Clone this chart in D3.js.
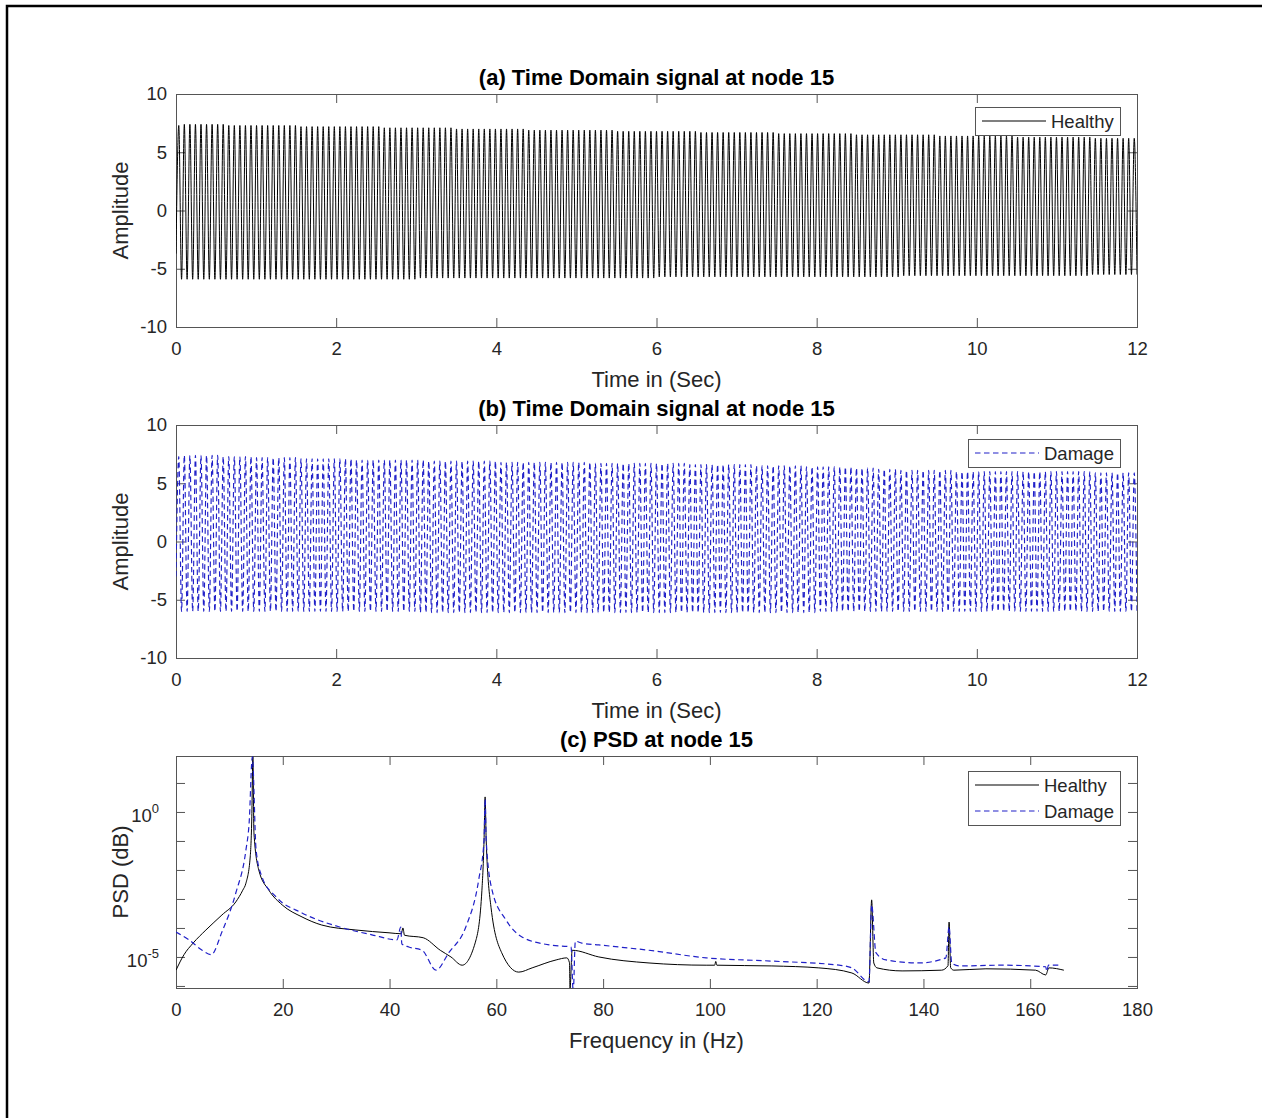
<!DOCTYPE html>
<html>
<head>
<meta charset="utf-8">
<script src="https://cdn.jsdelivr.net/npm/d3@7"></script>
<style>
body { margin: 0; background: #fff; }
svg text { font-family: "Liberation Sans", Arial, sans-serif; }
</style>
</head>
<body>
<div id="chart"></div>
<script>
// ---- time domain signals (alternating troughs / peaks, 14.4 Hz, 0..12 s) ----
const timeEnd = 12;
const timeTicks = [0, 2, 4, 6, 8, 10, 12];
const ampTicks = [-10, -5, 0, 5, 10];

const healthyPeaks = [
  7.3, 7.4, 7.4, 7.4, 7.4, 7.4, 7.4, 7.4, 7.4, 7.3, 7.3, 7.3, 7.3, 7.3, 7.3,
  7.3, 7.3, 7.3, 7.3, 7.3, 7.3, 7.3, 7.2, 7.2, 7.2, 7.2, 7.2, 7.2, 7.2,
  7.2, 7.2, 7.2, 7.2, 7.2, 7.2, 7.2, 7.2, 7.1, 7.1, 7.1, 7.1, 7.1, 7.1, 7.1,
  7.1, 7.1, 7.1, 7.1, 7.1, 7.1, 7.0, 7.0, 7.0, 7.0, 7.0, 7.0, 7.0, 7.0,
  7.0, 7.0, 7.0, 7.0, 7.0, 6.9, 6.9, 6.9, 6.9, 6.9, 6.9, 6.9, 6.9, 6.9, 6.9,
  6.9, 6.9, 6.9, 6.9, 6.9, 6.9, 6.8, 6.8, 6.8, 6.8, 6.8, 6.8, 6.8, 6.8,
  6.8, 6.8, 6.8, 6.8, 6.8, 6.8, 6.8, 6.7, 6.7, 6.7, 6.7, 6.7, 6.7, 6.7, 6.7,
  6.7, 6.7, 6.7, 6.7, 6.7, 6.7, 6.6, 6.6, 6.6, 6.6, 6.6, 6.6, 6.6, 6.6,
  6.6, 6.6, 6.6, 6.6, 6.6, 6.6, 6.5, 6.5, 6.5, 6.5, 6.5, 6.5, 6.5, 6.5, 6.5,
  6.5, 6.5, 6.5, 6.5, 6.5, 6.5, 6.4, 6.4, 6.4, 6.4, 6.4, 6.4, 6.4, 6.4,
  6.4, 6.4, 6.4, 6.4, 6.4, 6.4, 6.3, 6.3, 6.3, 6.3, 6.3, 6.3, 6.3, 6.3,
  6.3, 6.3, 6.3, 6.3, 6.3, 6.3, 6.2, 6.2, 6.2, 6.2, 6.2, 6.2, 6.2, 6.2
];
const healthyTroughs = [
  -3.7, -5.9, -5.9, -5.9, -5.9, -5.9, -5.9, -5.9, -5.9, -5.9, -5.9, -5.9, -5.9, -5.9, -5.9,
  -5.9, -5.9, -5.9, -5.9, -5.9, -5.9, -5.9, -5.9, -5.9, -5.9, -5.9, -5.9, -5.9, -5.9,
  -5.9, -5.9, -5.9, -5.9, -5.9, -5.9, -5.9, -5.9, -5.9, -5.9, -5.9, -5.9, -5.9, -5.9, -5.9,
  -5.8, -5.8, -5.8, -5.8, -5.8, -5.8, -5.8, -5.8, -5.8, -5.8, -5.8, -5.8, -5.8, -5.8,
  -5.8, -5.8, -5.8, -5.8, -5.8, -5.8, -5.8, -5.8, -5.8, -5.8, -5.8, -5.8, -5.8, -5.8, -5.8,
  -5.8, -5.8, -5.8, -5.8, -5.8, -5.8, -5.8, -5.8, -5.8, -5.8, -5.8, -5.8, -5.8, -5.8,
  -5.7, -5.7, -5.7, -5.7, -5.7, -5.7, -5.7, -5.7, -5.7, -5.7, -5.7, -5.7, -5.7, -5.7, -5.7,
  -5.7, -5.7, -5.7, -5.7, -5.7, -5.7, -5.7, -5.7, -5.7, -5.7, -5.7, -5.7, -5.7, -5.7,
  -5.7, -5.7, -5.7, -5.7, -5.7, -5.7, -5.7, -5.7, -5.7, -5.7, -5.7, -5.7, -5.7, -5.7, -5.7,
  -5.6, -5.6, -5.6, -5.6, -5.6, -5.6, -5.6, -5.6, -5.6, -5.6, -5.6, -5.6, -5.6, -5.6,
  -5.6, -5.6, -5.6, -5.6, -5.6, -5.6, -5.6, -5.6, -5.6, -5.6, -5.6, -5.6, -5.6, -5.6,
  -5.6, -5.6, -5.6, -5.6, -5.6, -5.6, -5.5, -5.5, -5.5, -5.5, -5.5, -5.5, -5.5, -5.5, -5.5
];

const damagePeaks = [
  7.3, 7.4, 7.4, 7.4, 7.4, 7.4, 7.4, 7.4, 7.3, 7.3, 7.3, 7.3, 7.3, 7.3, 7.2,
  7.2, 7.2, 7.2, 7.2, 7.2, 7.2, 7.2, 7.1, 7.1, 7.1, 7.1, 7.1, 7.1, 7.1,
  7.1, 7.1, 7.1, 7.0, 7.0, 7.0, 7.0, 7.0, 7.0, 7.0, 7.0, 7.0, 7.0, 7.0, 7.0,
  7.0, 6.9, 6.9, 6.9, 6.9, 6.9, 6.9, 6.9, 6.9, 6.9, 6.9, 6.9, 6.9, 6.9,
  6.8, 6.8, 6.8, 6.8, 6.8, 6.8, 6.8, 6.8, 6.8, 6.8, 6.8, 6.8, 6.8, 6.8, 6.8,
  6.8, 6.8, 6.7, 6.7, 6.7, 6.7, 6.7, 6.7, 6.7, 6.7, 6.7, 6.7, 6.7, 6.7,
  6.7, 6.7, 6.7, 6.7, 6.7, 6.6, 6.6, 6.6, 6.6, 6.6, 6.6, 6.6, 6.6, 6.6, 6.6,
  6.6, 6.6, 6.5, 6.5, 6.5, 6.5, 6.5, 6.5, 6.5, 6.5, 6.5, 6.4, 6.4, 6.4,
  6.4, 6.4, 6.4, 6.4, 6.4, 6.4, 6.3, 6.3, 6.3, 6.3, 6.2, 6.2, 6.2, 6.2, 6.1,
  6.1, 6.1, 6.1, 6.1, 6.1, 6.1, 6.1, 6.1, 6.1, 6.0, 6.0, 6.0, 6.0, 6.0,
  6.0, 6.0, 6.0, 6.0, 6.0, 6.0, 6.0, 6.0, 6.0, 6.0, 6.0, 6.0, 6.0, 6.0,
  6.0, 6.0, 6.0, 6.0, 6.0, 6.0, 5.9, 5.9, 5.9, 5.9, 5.9, 5.9, 5.9, 5.9
];
const damageTroughs = [
  -3.0, -6.0, -6.0, -6.0, -6.0, -6.0, -6.0, -6.0, -6.0, -6.0, -6.0, -6.0, -6.0, -6.0, -6.0,
  -6.0, -6.0, -6.0, -6.0, -6.0, -6.0, -6.0, -6.0, -6.0, -6.0, -6.0, -6.0, -6.0, -6.0,
  -6.0, -6.0, -6.0, -6.0, -6.0, -6.0, -6.0, -6.0, -6.0, -6.0, -6.0, -6.0, -6.0, -6.0, -6.0,
  -6.1, -6.1, -6.1, -6.1, -6.1, -6.1, -6.1, -6.1, -6.1, -6.1, -6.1, -6.1, -6.1, -6.1,
  -6.1, -6.1, -6.1, -6.1, -6.1, -6.1, -6.1, -6.1, -6.1, -6.1, -6.1, -6.1, -6.1, -6.1, -6.1,
  -6.1, -6.1, -6.1, -6.1, -6.1, -6.1, -6.1, -6.1, -6.1, -6.1, -6.1, -6.1, -6.1, -6.1,
  -6.1, -6.1, -6.1, -6.1, -6.1, -6.1, -6.1, -6.1, -6.1, -6.1, -6.1, -6.1, -6.1, -6.1, -6.1,
  -6.1, -6.1, -6.1, -6.1, -6.1, -6.1, -6.1, -6.1, -6.1, -6.1, -6.1, -6.1, -6.1, -6.1,
  -6.0, -6.0, -6.0, -6.0, -6.0, -6.0, -6.0, -6.0, -6.0, -6.0, -6.0, -6.0, -6.0, -6.0, -6.0,
  -6.0, -6.0, -6.0, -6.0, -6.0, -6.0, -6.0, -6.0, -6.0, -6.0, -6.0, -6.0, -6.0, -6.0,
  -6.0, -6.0, -6.0, -6.0, -6.0, -6.0, -6.0, -6.0, -6.0, -6.0, -6.0, -6.0, -6.0, -6.0,
  -6.0, -6.0, -6.0, -6.0, -6.0, -6.0, -6.0, -6.0, -6.0, -6.0, -6.0, -6.0, -6.0, -6.0, -6.0
];

// ---- PSD (log scale) ----
const freqTicks = [0, 20, 40, 60, 80, 100, 120, 140, 160, 180];
const psdTicks = [1e-6, 1e-5, 1e-4, 1e-3, 1e-2, 1e-1, 1e0, 1e1];

const psdFreqHealthy = [
  0, 1.5, 3.2, 5.6, 8.6, 11.2, 12.5, 13.1, 13.9, 14.2, 14.4, 14.6, 15.5, 17.4, 19.9,
  23.6, 27.3, 33.7, 39.9, 42.2, 42.5, 42.8, 46.3, 49.5, 51.5, 53.6, 56.2, 57.3, 57.7,
  57.9, 58.1, 59.0, 61.0, 64.2, 66.7, 71.2, 73.2, 73.7, 73.8, 74.2, 79.2, 88.6, 99.3,
  100.9, 101.1, 101.3, 111.6, 120.4, 126.6, 129.8, 130.3, 130.7, 131.3, 136, 143.4,
  144.6, 144.8, 145.1, 145.7, 151.7, 161, 162.9, 163.5, 166.3
];
const psdHealthy = [
  3.5e-6, 1.2e-5, 3.0e-5, 8.5e-5, 2.8e-4, 7.9e-4, 2e-3, 3.5e-3, 2.8e-2, 0.68, 80, 0.19, 1e-2, 2e-3, 6.2e-4,
  2.4e-4, 1.26e-4, 8.5e-5, 6.8e-5, 6.3e-5, 1e-4, 5.6e-5, 4.6e-5, 1.7e-5, 1e-5, 5.2e-6, 3.9e-5, 2e-3, 0.107,
  3.3, 0.107, 5.2e-4, 1.4e-5, 3e-6, 4.2e-6, 7.9e-6, 9.3e-6, 6.3e-6, 8e-7, 1.7e-5, 1e-5, 6.2e-6, 5.2e-6,
  5.2e-6, 7e-6, 5.2e-6, 4.9e-6, 4.2e-6, 2.8e-6, 1.26e-6, 9.3e-4, 6.2e-6, 4.2e-6, 3.3e-6, 3.5e-6,
  5e-6, 1.6e-4, 4.2e-6, 3.5e-6, 3.9e-6, 3.5e-6, 2.4e-6, 4.2e-6, 3.5e-6
];
const psdFreqDamage = [
  0, 2.4, 4.9, 6.6, 8.6, 11.2, 13.1, 13.7, 14.3, 15.0, 16.1, 18.7, 23.6, 30.5, 36.7,
  41.4, 42.1, 42.3, 43.6, 46.1, 48.7, 51.1, 54.3, 56.7, 57.7, 57.9, 58.1, 59.2, 61.8,
  64.8, 69.9, 74.0, 74.4, 74.8, 76, 79.2, 88.6, 99.3, 111.6, 124.2, 126.6, 129.8,
  130.3, 131.1, 133, 139.1, 144.2, 144.8, 145.3, 146.6, 154.7, 162.9, 163.1, 163.4, 165.4
];
const psdDamage = [
  7.2e-5, 3.9e-5, 1.7e-5, 1.2e-5, 7.2e-5, 1.6e-3, 4.9e-2, 0.42, 80, 4.9e-2, 5.8e-3, 1.2e-3, 3.3e-4, 1.1e-4, 5.8e-5,
  3.9e-5, 1.07e-4, 2.8e-5, 2.2e-5, 1.7e-5, 3.5e-6, 1.4e-5, 1.1e-4, 4.6e-3, 0.107, 2.8, 0.107, 2e-3, 1.9e-4,
  4.9e-5, 2.6e-5, 2.2e-5, 6e-7, 3.5e-5, 3e-5, 2.6e-5, 1.7e-5, 9.3e-6, 7.2e-6, 5.2e-6, 4.2e-6, 1.4e-6,
  6.3e-4, 1.4e-5, 7.9e-6, 6.2e-6, 9.3e-6, 1.1e-4, 6.2e-6, 4.9e-6, 5.2e-6, 4.6e-6, 3.2e-6, 5.2e-6, 5.2e-6
];

// ---- layout ----
const W = 1262, H = 1118;
const plotLeft = 176, plotRight = 1137;
const axisColor = "#555";
const textColor = "#262626";
const blue = "#2020c8";
const dash = "5.5,3.5";
const font = "'Liberation Sans', Arial, sans-serif";

const svg = d3.select("#chart").append("svg")
    .attr("width", W)
    .attr("height", H);

svg.append("rect")
    .attr("width", W).attr("height", H)
    .attr("fill", "#fff");

// outer frame (runs off the right and bottom of the picture)
svg.append("rect")
    .attr("x", 7).attr("y", 6)
    .attr("width", 1400).attr("height", 1400)
    .attr("fill", "none")
    .attr("stroke", "#000")
    .attr("stroke-width", 2.5);

function interleave(troughs, peaks) {
    const out = [];
    for (let i = 0; i < troughs.length; i++) {
        out.push(troughs[i]);
        if (i < peaks.length) out.push(peaks[i]);
    }
    return out;
}

function styleAxis(g) {
    g.select(".domain").remove();
    g.selectAll(".tick line").attr("stroke", axisColor).attr("stroke-width", 1);
    g.selectAll(".tick text")
        .attr("fill", textColor)
        .attr("font-size", 18.5)
        .attr("font-family", font);
}

function frame(g, top, bottom, x, y, xTicks, yTicks, clipId) {
    g.append("g")
        .attr("transform", `translate(0,${bottom})`)
        .call(d3.axisBottom(x).tickValues(xTicks).tickFormat(d => String(d))
            .tickSizeInner(-9).tickSizeOuter(0).tickPadding(15))
        .call(styleAxis);
    g.append("g")
        .attr("transform", `translate(0,${top})`)
        .call(d3.axisTop(x).tickValues(xTicks).tickSizeInner(-9).tickSizeOuter(0).tickFormat(""))
        .call(styleAxis);
    g.append("g")
        .attr("class", "y-left")
        .attr("transform", `translate(${plotLeft},0)`)
        .call(d3.axisLeft(y).tickValues(yTicks).tickFormat(d => String(d))
            .tickSizeInner(-9).tickSizeOuter(0).tickPadding(9))
        .call(styleAxis);
    g.append("g")
        .attr("transform", `translate(${plotRight},0)`)
        .call(d3.axisRight(y).tickValues(yTicks).tickSizeInner(-9).tickSizeOuter(0).tickFormat(""))
        .call(styleAxis);

    g.append("clipPath").attr("id", clipId)
        .append("rect")
        .attr("x", plotLeft).attr("y", top)
        .attr("width", plotRight - plotLeft).attr("height", bottom - top);

    g.append("rect")
        .attr("x", plotLeft + 0.5).attr("y", top + 0.5)
        .attr("width", plotRight - plotLeft).attr("height", bottom - top)
        .attr("fill", "none")
        .attr("stroke", axisColor)
        .attr("stroke-width", 1);
}

function labels(g, top, bottom, title, xLabel, yLabel) {
    const cx = (plotLeft + plotRight) / 2;
    g.append("text")
        .attr("x", cx).attr("y", top - 9)
        .attr("text-anchor", "middle")
        .attr("font-size", 22).attr("font-weight", "bold")
        .attr("fill", "#000")
        .text(title);
    g.append("text")
        .attr("x", cx).attr("y", bottom + 60)
        .attr("text-anchor", "middle")
        .attr("font-size", 22)
        .attr("fill", textColor)
        .text(xLabel);
    g.append("text")
        .attr("transform", `translate(128,${(top + bottom) / 2}) rotate(-90)`)
        .attr("text-anchor", "middle")
        .attr("font-size", 22)
        .attr("fill", textColor)
        .text(yLabel);
}

function legend(g, x0, y0, w, items) {
    const rowH = 26;
    const h = items.length * rowH + 2;
    g.append("rect")
        .attr("x", x0 + 0.5).attr("y", y0 + 0.5)
        .attr("width", w).attr("height", h)
        .attr("fill", "#fff")
        .attr("stroke", axisColor);
    items.forEach((it, i) => {
        const cy = y0 + 14 + i * rowH;
        g.append("line")
            .attr("x1", x0 + 7).attr("x2", x0 + 71)
            .attr("y1", cy).attr("y2", cy)
            .attr("stroke", it.color)
            .attr("stroke-width", 1.2)
            .attr("stroke-dasharray", it.dash || null);
        g.append("text")
            .attr("x", x0 + 76).attr("y", cy + 6.5)
            .attr("font-size", 18.5)
            .attr("fill", textColor)
            .text(it.label);
    });
}

function timePanel(top, bottom, troughs, peaks, color, dashArr, title, legendItem, legendY, clipId) {
    const g = svg.append("g");
    const values = interleave(troughs, peaks);
    const step = timeEnd / (values.length - 1);
    const x = d3.scaleLinear().domain([0, timeEnd]).range([plotLeft, plotRight]);
    const y = d3.scaleLinear().domain([-10, 10]).range([bottom, top]);

    frame(g, top, bottom, x, y, timeTicks, ampTicks, clipId);

    const line = d3.line()
        .x((d, i) => x(i * step))
        .y(d => y(d))
        .curve(d3.curveMonotoneX);

    g.append("path")
        .datum(values)
        .attr("clip-path", `url(#${clipId})`)
        .attr("d", line)
        .attr("fill", "none")
        .attr("stroke", color)
        .attr("stroke-width", dashArr ? 1.15 : 1)
        .attr("stroke-dasharray", dashArr);

    labels(g, top, bottom, title, "Time in (Sec)", "Amplitude");
    legend(g, legendItem.x, legendY, legendItem.w, [legendItem]);
}

timePanel(94, 327, healthyTroughs, healthyPeaks, "#000", null,
    "(a) Time Domain signal at node 15",
    { label: "Healthy", color: "#000", x: 975, w: 145 }, 107, "clipA");

timePanel(425, 658, damageTroughs, damagePeaks, blue, dash,
    "(b) Time Domain signal at node 15",
    { label: "Damage", color: blue, dash: dash, x: 968, w: 152 }, 439, "clipB");

// ---- PSD panel ----
(function () {
    const top = 756, bottom = 988;
    const g = svg.append("g");
    const x = d3.scaleLinear().domain([0, 180]).range([plotLeft, plotRight]);
    const y = d3.scaleLog().domain([8.5e-7, 85]).range([bottom, top]);

    frame(g, top, bottom, x, y, freqTicks, psdTicks, "clipC");
    // log axis: only 10^0 and 10^-5 are labelled
    g.select(".y-left").selectAll(".tick text").remove();

    [[1e0, "0"], [1e-5, "-5"]].forEach(([v, exp]) => {
        const t = g.append("text")
            .attr("x", plotLeft - 17)
            .attr("y", y(v) + 10)
            .attr("text-anchor", "end")
            .attr("font-size", 18.5)
            .attr("fill", textColor);
        t.append("tspan").text("10");
        t.append("tspan").attr("dy", -9).attr("font-size", 13).text(exp);
    });

    const line = d3.line()
        .x(d => x(d[0]))
        .y(d => y(d[1]))
        .curve(d3.curveMonotoneX);

    g.append("path")
        .datum(psdFreqHealthy.map((f, i) => [f, psdHealthy[i]]))
        .attr("clip-path", "url(#clipC)")
        .attr("d", line)
        .attr("fill", "none")
        .attr("stroke", "#000")
        .attr("stroke-width", 1);

    g.append("path")
        .datum(psdFreqDamage.map((f, i) => [f, psdDamage[i]]))
        .attr("clip-path", "url(#clipC)")
        .attr("d", line)
        .attr("fill", "none")
        .attr("stroke", blue)
        .attr("stroke-width", 1.2)
        .attr("stroke-dasharray", dash);

    labels(g, top, bottom, "(c) PSD at node 15", "Frequency in (Hz)", "PSD (dB)");
    legend(g, 968, 771, 152, [
        { label: "Healthy", color: "#000" },
        { label: "Damage", color: blue, dash: dash }
    ]);
})();
</script>
</body>
</html>
